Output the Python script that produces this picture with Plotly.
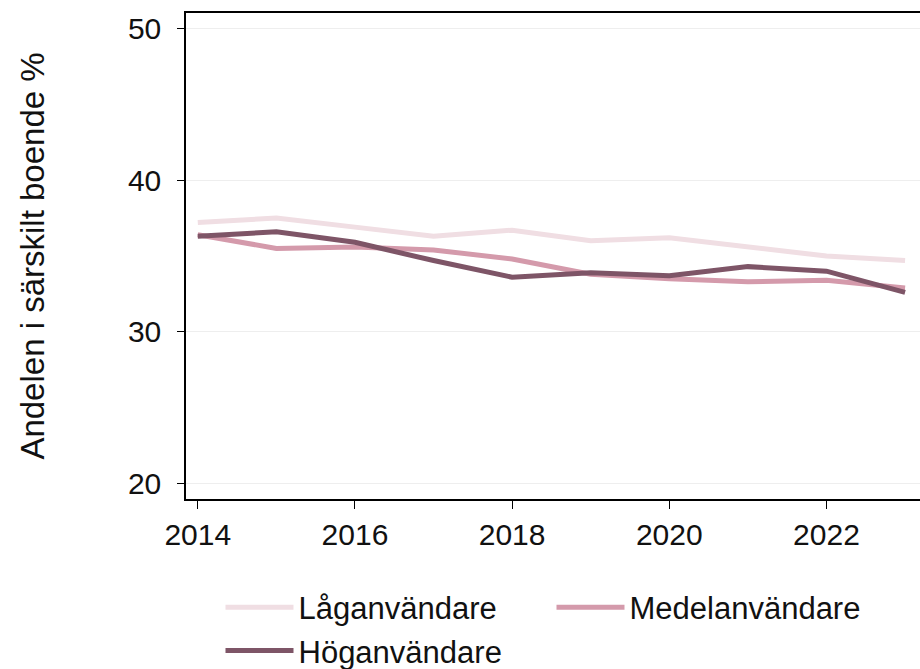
import plotly.graph_objects as go

years = [2014, 2015, 2016, 2017, 2018, 2019, 2020, 2021, 2022, 2023]
lag = [37.2, 37.5, 36.9, 36.3, 36.7, 36.0, 36.2, 35.6, 35.0, 34.7]
medel = [36.4, 35.5, 35.6, 35.4, 34.8, 33.8, 33.5, 33.3, 33.4, 32.9]
hog = [36.3, 36.6, 35.9, 34.7, 33.6, 33.9, 33.7, 34.3, 34.0, 32.6]

names = ["Låganvändare", "Medelanvändare", "Höganvändare"]
colors = ["#f0dee3", "#d49aab", "#7e5567"]
series = [lag, medel, hog]

FONT = "Liberation Sans"

fig = go.Figure()
for name, vals, col in zip(names, series, colors):
    fig.add_trace(go.Scatter(x=years, y=vals, mode="lines", name=name,
                             line=dict(color=col, width=5)))

fig.update_layout(
    width=920, height=669,
    margin=dict(l=186, r=0, t=13, b=170, autoexpand=False),
    paper_bgcolor="white", plot_bgcolor="white",
    font=dict(family=FONT, size=30, color="#111111"),
    showlegend=True,
    legend=dict(orientation="h", x=0.047, y=-0.168, xanchor="left", yanchor="top",
                font=dict(family=FONT, size=31, color="#111111"),
                entrywidth=248, entrywidthmode="pixels",
                tracegroupgap=0, itemwidth=68),
    xaxis=dict(range=[2013.85, 2023.19], tickvals=[2014, 2016, 2018, 2020, 2022],
               showline=True, linecolor="black", linewidth=1.5, mirror=True,
               ticks="outside", ticklen=8, tickcolor="black", tickwidth=1.2,
               showgrid=False, zeroline=False,
               tickfont=dict(family=FONT, size=30, color="#111111")),
    yaxis=dict(range=[19, 51], tickvals=[20, 30, 40, 50],
               showline=True, linecolor="black", linewidth=1.5, mirror=False,
               ticks="outside", ticklen=7, tickcolor="black", tickwidth=1.2,
               ticklabelstandoff=10,
               showgrid=True, gridcolor="#eeeeee", gridwidth=1, zeroline=False,
               tickfont=dict(family=FONT, size=30, color="#111111"),
               title=dict(text="Andelen i särskilt boende %", standoff=73,
                          font=dict(family=FONT, size=33, color="#111111"))),
)

fig.write_html(
    "out.html",
    config={"displayModeBar": False},
    post_script="document.body.style.margin='0';document.body.style.overflow='hidden';",
)
